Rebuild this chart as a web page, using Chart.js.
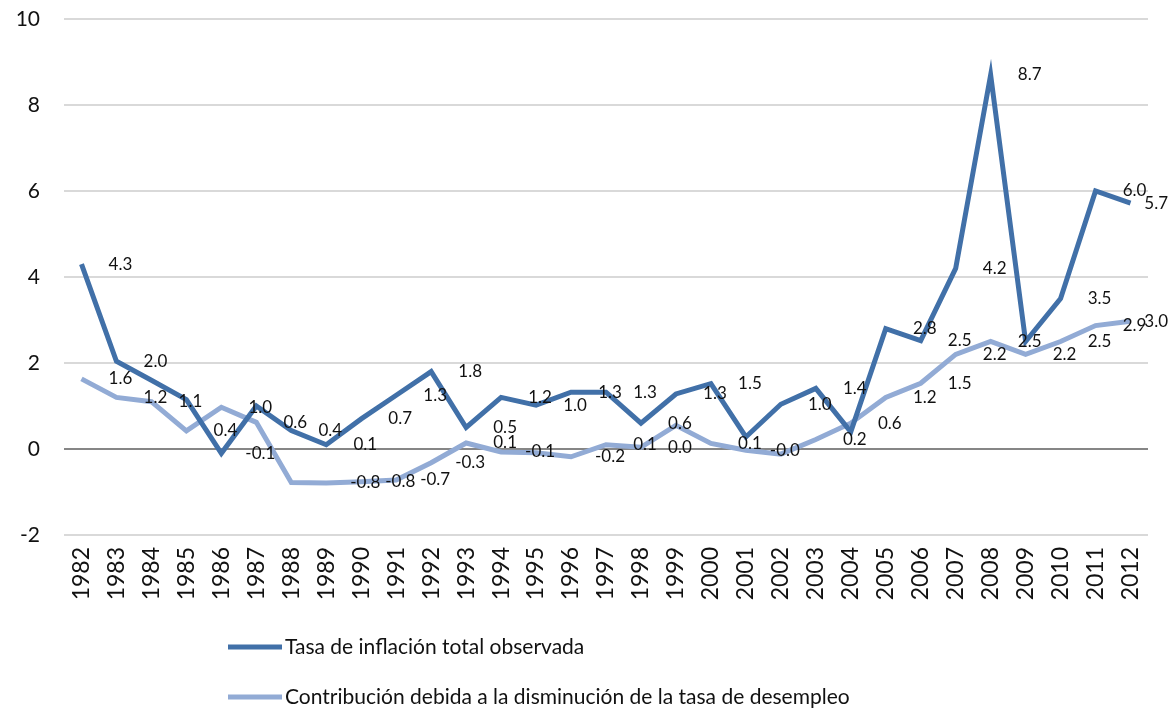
<!DOCTYPE html>
<html>
<head>
<meta charset="utf-8">
<script src="https://cdn.jsdelivr.net/npm/chart.js@4.4.1/dist/chart.umd.min.js"></script>
<style>
  html, body { margin: 0; padding: 0; background: #ffffff; }
  #wrap { position: relative; width: 1171px; height: 709px; }
</style>
</head>
<body>
<div id="wrap"><canvas id="c" width="1171" height="709"></canvas></div>
<script>
const years = ['1982','1983','1984','1985','1986','1987','1988','1989','1990','1991','1992','1993','1994','1995','1996','1997','1998','1999','2000','2001','2002','2003','2004','2005','2006','2007','2008','2009','2010','2011','2012'];
const inflacionTotal = [4.3, 2.04, 1.6, 1.15, -0.1, 1.0, 0.43, 0.1, 0.7, 1.25, 1.8, 0.5, 1.2, 1.02, 1.32, 1.32, 0.6, 1.28, 1.52, 0.28, 1.04, 1.41, 0.4, 2.8, 2.52, 4.2, 8.7, 2.5, 3.5, 6.0, 5.72];
const contribucionDesempleo = [1.63, 1.2, 1.1, 0.42, 0.97, 0.62, -0.78, -0.79, -0.76, -0.72, -0.32, 0.14, -0.07, -0.09, -0.18, 0.1, 0.04, 0.55, 0.13, -0.03, -0.12, 0.22, 0.6, 1.2, 1.53, 2.2, 2.5, 2.2, 2.5, 2.87, 2.97];
const seriesNames = ['Tasa de inflación total observada', 'Contribución debida a la disminución de la tasa de desempleo'];
const yTicks = [-2, 0, 2, 4, 6, 8, 10];
// years whose value label is not shown in the original chart
const unlabeledYears = [
  ['1984', '1985', '1987', '2001', '2004', '2009'],
  ['1988', '1995', '1999', '2002']
];

const FONT = 'Lato, "Open Sans", sans-serif';

const dataLabels = {
  id: 'dataLabels',
  afterDatasetsDraw(chart) {
    const ctx = chart.ctx;
    ctx.save();
    ctx.font = '17px ' + FONT;
    ctx.fillStyle = '#111111';
    ctx.textAlign = 'center';
    ctx.textBaseline = 'middle';
    chart.data.datasets.forEach((ds, i) => {
      const meta = chart.getDatasetMeta(i);
      meta.data.forEach((pt, j) => {
        if (unlabeledYears[i].includes(chart.data.labels[j])) return;
        const txt = ds.data[j].toFixed(1);
        const w = ctx.measureText(txt).width;
        let x = pt.x + 39;
        x = Math.min(x, chart.width - w / 2 - 3);
        ctx.fillText(txt, x, pt.y);
      });
    });
    ctx.restore();
  }
};

const customLegend = {
  id: 'customLegend',
  afterDraw(chart) {
    const ctx = chart.ctx;
    ctx.save();
    ctx.font = '21px ' + FONT;
    ctx.textBaseline = 'middle';
    ctx.textAlign = 'left';
    const rows = [647, 697];
    chart.data.datasets.forEach((ds, i) => {
      const y = rows[i];
      ctx.strokeStyle = ds.borderColor;
      ctx.lineWidth = 5;
      ctx.lineCap = 'butt';
      ctx.beginPath();
      ctx.moveTo(228, y);
      ctx.lineTo(282, y);
      ctx.stroke();
      ctx.fillStyle = '#111111';
      ctx.fillText(ds.label, 285, y);
    });
    ctx.restore();
  }
};

new Chart(document.getElementById('c'), {
  type: 'line',
  data: {
    labels: years,
    datasets: [
      {
        label: seriesNames[0],
        data: inflacionTotal,
        borderColor: '#4170A8',
        backgroundColor: '#4170A8',
        borderWidth: 5,
        pointRadius: 0,
        tension: 0,
        fill: false
      },
      {
        label: seriesNames[1],
        data: contribucionDesempleo,
        borderColor: '#92ABD5',
        backgroundColor: '#92ABD5',
        borderWidth: 5,
        pointRadius: 0,
        tension: 0,
        fill: false
      }
    ]
  },
  options: {
    responsive: false,
    animation: false,
    layout: { padding: { top: 19, right: 23, bottom: 84, left: 0 } },
    plugins: {
      legend: { display: false },
      tooltip: { enabled: false }
    },
    scales: {
      x: {
        offset: true,
        grid: { display: false, drawTicks: false },
        border: { display: false },
        ticks: {
          color: '#111111',
          font: { family: FONT, size: 23 },
          maxRotation: 90,
          minRotation: 90,
          autoSkip: false,
          padding: 12
        },
        afterFit(scale) { scale.height = 90; scale.paddingLeft = 0; scale.paddingRight = 0; }
      },
      y: {
        min: -2,
        max: 10,
        afterBuildTicks(scale) { scale.ticks = yTicks.map(v => ({ value: v })); },
        grid: {
          drawTicks: false,
          color: ctx => (ctx.tick && ctx.tick.value === 0) ? '#868686' : '#D9D9D9',
          lineWidth: 2
        },
        border: { display: false },
        ticks: {
          color: '#111111',
          font: { family: FONT, size: 21 },
          padding: 24
        },
        afterFit(scale) { scale.width = 64; scale.paddingTop = 0; scale.paddingBottom = 0; }
      }
    }
  },
  plugins: [dataLabels, customLegend]
});
</script>
</body>
</html>
